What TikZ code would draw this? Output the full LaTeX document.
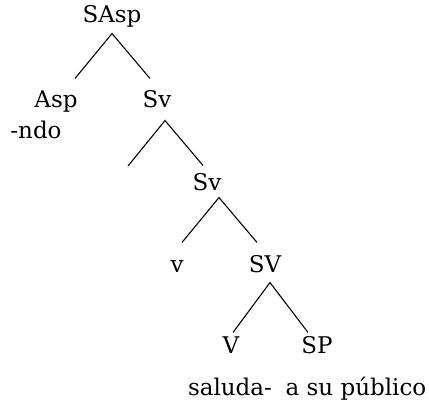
\documentclass[tikz,border=0pt]{standalone}
\usepackage{fontspec}
\setmainfont{DejaVu Serif}
\usetikzlibrary{calc,positioning}

\tikzset{cat/.style={anchor=base,inner sep=0pt,text height=17pt,text depth=5pt,
  font=\fontsize{23}{27}\selectfont}}

\begin{document}
\begin{tikzpicture}[x=1pt,y=-1pt,line width=1.1pt]
\useasboundingbox (0,0) rectangle (429,404);

\def\cats{sasp/112/23/{SAsp},asp/56/107/{Asp},svi/157/107/{Sv},ndo/36/139/{-ndo},
  svii/207/190/{Sv},vl/177/272/{v},svu/265/272/{SV},vu/231/353/{V},sp/317/353/{SP},
  verb/230/395/{saluda-},obj/356/395/{a su público}}
\foreach \name / \x / \y / \element in \cats
  \node [cat] (\name) at (\x,\y) {\element};

\coordinate (gap) at (128,166);

\draw ($(asp.north)+(19,-11)$) -- ($(sasp.south)+(0,5)$) -- ($(svi.north)+(-7,-11)$);
\draw (gap) -- ($(svi.south)+(8,8)$) -- ($(svii.north)+(-4,-7)$);
\draw ($(vl.north)+(5,-12)$) -- ($(svii.south)+(12,2)$) -- ($(svu.north)+(-8,-12)$);
\draw ($(vu.north)+(2,-3)$) -- ($(svu.south)+(5,5)$) -- ($(sp.north)+(-9,-3)$);

\end{tikzpicture}
\end{document}
